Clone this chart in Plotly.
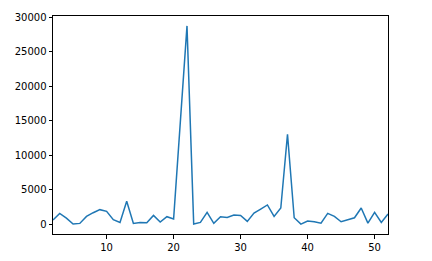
import plotly.graph_objects as go

x_vals = list(range(2, 53))
y_vals = [630, 1600, 920, 50, 150, 1160, 1700, 2140, 1900, 680,
          290, 3350, 150, 290, 240, 1310, 340, 1120, 780, 14700,
          28750, 50, 290, 1750, 150, 1120, 1020, 1360, 1310, 440,
          1650, 2230, 2820, 1160, 2380, 13060, 970, 50, 490, 390,
          190, 1600, 1160, 390, 730, 970, 2380, 190, 1750, 290, 1500]
x_ticks = [10, 20, 30, 40, 50]
y_ticks = [0, 5000, 10000, 15000, 20000, 25000, 30000]

ymin, ymax = min(y_vals), max(y_vals)
pad = 0.05 * (ymax - ymin)

fig = go.Figure(go.Scatter(x=x_vals, y=y_vals, mode="lines",
                           line=dict(color="#1f77b4", width=1.5)))

axis_common = dict(showgrid=False, zeroline=False, showline=True, mirror=True,
                   linecolor="black", linewidth=1, ticks="outside", ticklen=3.5,
                   tickwidth=1, tickcolor="black", automargin=False,
                   tickfont=dict(family="DejaVu Sans", size=10, color="black"))

fig.update_xaxes(range=[x_vals[0], x_vals[-1]], tickvals=x_ticks,
                 ticktext=[str(v) for v in x_ticks], **axis_common)
fig.update_yaxes(range=[ymin - pad, ymax + pad], tickvals=y_ticks,
                 ticktext=[str(v) for v in y_ticks], **axis_common)

fig.update_layout(width=432, height=261, margin=dict(l=53, r=44, t=16, b=27),
                  paper_bgcolor="white", plot_bgcolor="white", showlegend=False)

fig.write_html("out.html")
